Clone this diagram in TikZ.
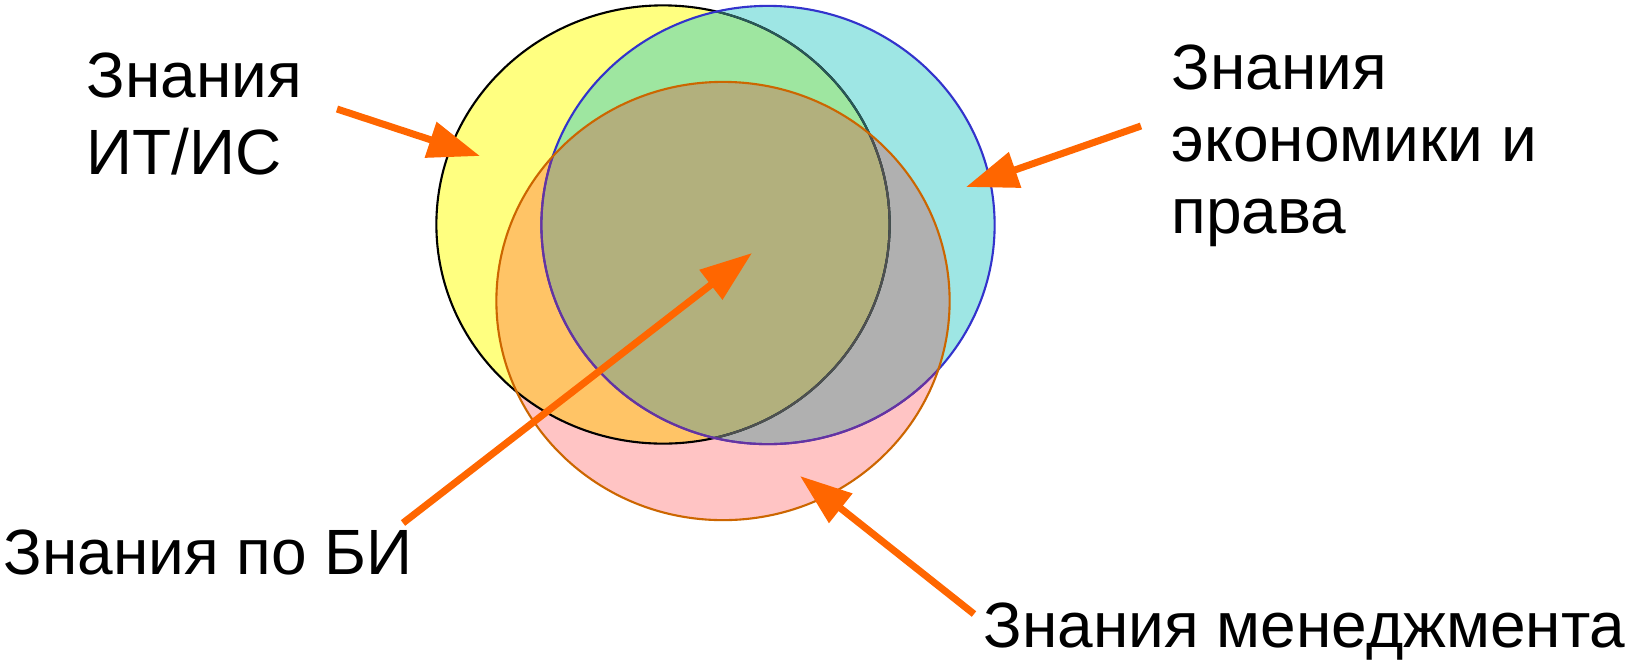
\documentclass[tikz,border=0pt]{standalone}
\usepackage{fontspec}
\setmainfont{Liberation Sans}
\usetikzlibrary{arrows.meta}
\definecolor{cYel}{HTML}{FFFF80}
\definecolor{cCya}{HTML}{9EE6E4}
\definecolor{cPnk}{HTML}{FFC4C4}
\definecolor{cGrn}{HTML}{9EE6A0}
\definecolor{cOrg}{HTML}{FFC466}
\definecolor{cGry}{HTML}{B0B0B0}
\definecolor{cOlv}{HTML}{B2B07D}
\definecolor{cArr}{HTML}{FF6600}
\definecolor{bYel}{HTML}{000000}
\definecolor{bYelC}{HTML}{285858}
\definecolor{bYelCP}{HTML}{505050}
\definecolor{bCya}{HTML}{3333CC}
\definecolor{bCyaP}{HTML}{6633A0}
\definecolor{bPnk}{HTML}{CC6600}
\begin{document}
\begin{tikzpicture}[x=0.01cm,y=-0.01cm,
  ell/.style={x radius=2.265cm, y radius=2.19cm},
  rim/.style={line width=0.6pt},
  arr/.style={draw=cArr, fill=cArr, line width=2pt, -{Triangle[length=0.52cm,width=0.36cm]}},
  lbl/.style={anchor=base west, inner sep=0pt, font=\fontsize{18.2}{21}\selectfont}]
\useasboundingbox (0,0) rectangle (1633,663);
\fill[white] (0,0) rectangle (1633,663);
\coordinate (Yc) at (663,224.5);
\coordinate (Cc) at (768,225);
\coordinate (Pc) at (723,301);
% base fills
\fill[cYel] (Yc) ellipse [ell];
\fill[cCya] (Cc) ellipse [ell];
\fill[cPnk] (Pc) ellipse [ell];
% overlaps
\begin{scope}
  \clip (Yc) ellipse [ell];
  \fill[cGrn] (Cc) ellipse [ell];
  \fill[cOrg] (Pc) ellipse [ell];
\end{scope}
\begin{scope}
  \clip (Cc) ellipse [ell];
  \fill[cGry] (Pc) ellipse [ell];
  \clip (Yc) ellipse [ell];
  \fill[cOlv] (Pc) ellipse [ell];
\end{scope}
% rims
\draw[rim, bYel] (Yc) ellipse [ell];
\begin{scope}
  \clip (Cc) ellipse [ell];
  \draw[rim, bYelC] (Yc) ellipse [ell];
  \clip (Pc) ellipse [ell];
  \draw[rim, bYelCP] (Yc) ellipse [ell];
\end{scope}
\draw[rim, bCya] (Cc) ellipse [ell];
\begin{scope}
  \clip (Pc) ellipse [ell];
  \draw[rim, bCyaP] (Cc) ellipse [ell];
\end{scope}
\draw[rim, bPnk] (Pc) ellipse [ell];
% labels
\node[lbl] (it1) at (86,97) {Знания};
\node[lbl] (it2) at (86,174) {ИТ/ИС};
\node[lbl] (ec1) at (1171,89) {Знания};
\node[lbl] (ec2) at (1171,161) {экономики и};
\node[lbl] (ec3) at (1171,233) {права};
\node[lbl] (bi) at (3,574) {Знания по БИ};
\node[lbl] (mg) at (983,647) {Знания менеджмента};
% arrows
\coordinate (a1s) at (337,109); \coordinate (a1t) at (480,156);
\coordinate (a2s) at (1141,126); \coordinate (a2t) at (966,187);
\coordinate (a3s) at (403,523); \coordinate (a3t) at (752,253);
\coordinate (a4s) at (974,614); \coordinate (a4t) at (800,476);
\draw[arr] (a1s) -- (a1t);
\draw[arr] (a2s) -- (a2t);
\draw[arr] (a3s) -- (a3t);
\draw[arr] (a4s) -- (a4t);
\end{tikzpicture}
\end{document}
